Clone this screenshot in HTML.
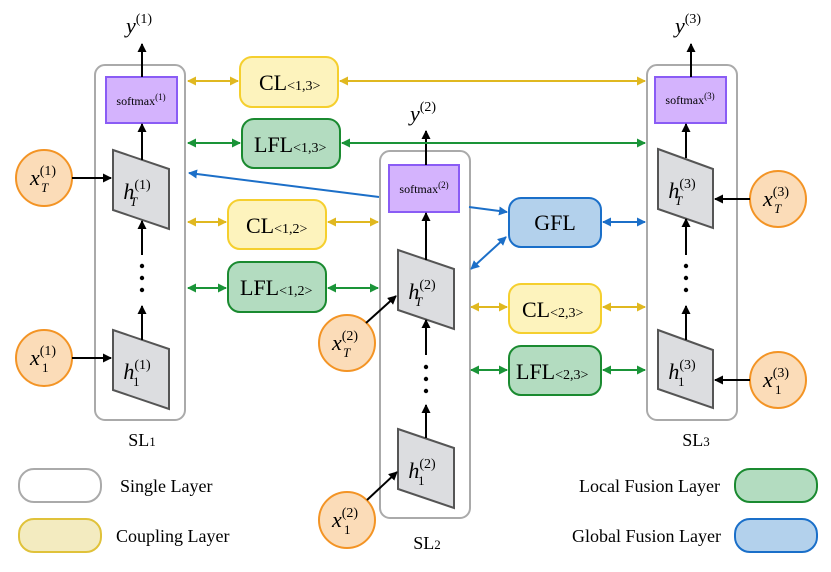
<!DOCTYPE html>
<html><head><meta charset="utf-8"><style>
html,body{margin:0;padding:0;background:#fff;}
svg{display:block;font-family:"Liberation Serif",serif;}
</style></head><body>
<svg width="831" height="572" viewBox="0 0 831 572" xmlns="http://www.w3.org/2000/svg">
<defs>
<marker id="ak" markerWidth="9" markerHeight="9" refX="8" refY="4.5" orient="auto-start-reverse" markerUnits="userSpaceOnUse"><path d="M0,0 L9,4.5 L0,9 z" fill="#000"/></marker>
<marker id="ay" markerWidth="9" markerHeight="9" refX="8" refY="4.5" orient="auto-start-reverse" markerUnits="userSpaceOnUse"><path d="M0,0 L9,4.5 L0,9 z" fill="#e0b820"/></marker>
<marker id="ag" markerWidth="9" markerHeight="9" refX="8" refY="4.5" orient="auto-start-reverse" markerUnits="userSpaceOnUse"><path d="M0,0 L9,4.5 L0,9 z" fill="#1a9438"/></marker>
<marker id="ab" markerWidth="9" markerHeight="9" refX="8" refY="4.5" orient="auto-start-reverse" markerUnits="userSpaceOnUse"><path d="M0,0 L9,4.5 L0,9 z" fill="#1c6fc8"/></marker>
</defs>

<rect x="95" y="65" width="90" height="355" rx="10" fill="#fff" stroke="#aaa" stroke-width="2"/>
<rect x="380" y="151" width="90" height="367" rx="10" fill="#fff" stroke="#aaa" stroke-width="2"/>
<rect x="647" y="65" width="90" height="355" rx="10" fill="#fff" stroke="#aaa" stroke-width="2"/>

<rect x="106" y="77" width="71" height="46" fill="#d4b3fd" stroke="#8a5cf5" stroke-width="2"/>
<text x="141" y="105" font-size="12" text-anchor="middle">softmax<tspan font-size="9" dy="-5">(1)</tspan></text>
<rect x="389" y="165" width="70" height="47" fill="#d4b3fd" stroke="#8a5cf5" stroke-width="2"/>
<text x="424" y="193" font-size="12" text-anchor="middle">softmax<tspan font-size="9" dy="-5">(2)</tspan></text>
<rect x="655" y="77" width="71" height="46" fill="#d4b3fd" stroke="#8a5cf5" stroke-width="2"/>
<text x="690" y="104" font-size="12" text-anchor="middle">softmax<tspan font-size="9" dy="-5">(3)</tspan></text>

<g stroke="#000" stroke-width="2" fill="none">
<line x1="142" y1="77" x2="142" y2="44" marker-end="url(#ak)"/>
<line x1="426" y1="165" x2="426" y2="131" marker-end="url(#ak)"/>
<line x1="691" y1="77" x2="691" y2="44" marker-end="url(#ak)"/>
</g>
<text x="126" y="33" font-size="22" font-style="italic">y<tspan font-size="14" font-style="normal" dy="-10">(1)</tspan></text>
<text x="410" y="121" font-size="22" font-style="italic">y<tspan font-size="14" font-style="normal" dy="-10">(2)</tspan></text>
<text x="675" y="33" font-size="22" font-style="italic">y<tspan font-size="14" font-style="normal" dy="-10">(3)</tspan></text>

<g fill="#dcdde0" stroke="#555" stroke-width="2">
<polygon points="113,150 169,169 169,229 113,210"/>
<polygon points="113,330 169,349 169,409 113,390"/>
<polygon points="398,250 454,269 454,329 398,310"/>
<polygon points="398,429 454,448 454,508 398,489"/>
<polygon points="658,149 713,169 713,228 658,209"/>
<polygon points="658,330 713,350 713,408 658,389"/>
</g>
<g font-size="22" font-style="italic" text-anchor="middle">
<text x="137" y="199">h<tspan font-size="14" font-style="normal" dy="-10">(1)</tspan></text>
<text x="137" y="379">h<tspan font-size="14" font-style="normal" dy="-10">(1)</tspan></text>
<text x="422" y="299">h<tspan font-size="14" font-style="normal" dy="-10">(2)</tspan></text>
<text x="422" y="478">h<tspan font-size="14" font-style="normal" dy="-10">(2)</tspan></text>
<text x="682" y="198">h<tspan font-size="14" font-style="normal" dy="-10">(3)</tspan></text>
<text x="682" y="379">h<tspan font-size="14" font-style="normal" dy="-10">(3)</tspan></text>
</g>
<g font-size="13" font-style="italic">
<text x="130" y="206">T</text><text x="133" y="386" font-style="normal">1</text>
<text x="415" y="306">T</text><text x="418" y="485" font-style="normal">1</text>
<text x="675" y="205">T</text><text x="678" y="386" font-style="normal">1</text>
</g>

<g stroke="#000" stroke-width="2" fill="none">
<line x1="142" y1="160" x2="142" y2="124" marker-end="url(#ak)"/>
<line x1="142" y1="255" x2="142" y2="221" marker-end="url(#ak)"/>
<line x1="142" y1="340" x2="142" y2="306" marker-end="url(#ak)"/>
<line x1="426" y1="260" x2="426" y2="213" marker-end="url(#ak)"/>
<line x1="426" y1="355" x2="426" y2="320" marker-end="url(#ak)"/>
<line x1="426" y1="438" x2="426" y2="405" marker-end="url(#ak)"/>
<line x1="686" y1="158" x2="686" y2="124" marker-end="url(#ak)"/>
<line x1="686" y1="255" x2="686" y2="219" marker-end="url(#ak)"/>
<line x1="686" y1="340" x2="686" y2="306" marker-end="url(#ak)"/>
</g>
<g fill="#000">
<circle cx="142" cy="266" r="2.2"/><circle cx="142" cy="278" r="2.2"/><circle cx="142" cy="290" r="2.2"/>
<circle cx="426" cy="367" r="2.2"/><circle cx="426" cy="379" r="2.2"/><circle cx="426" cy="391" r="2.2"/>
<circle cx="686" cy="266" r="2.2"/><circle cx="686" cy="278" r="2.2"/><circle cx="686" cy="290" r="2.2"/>
</g>

<g fill="#fbdcb8" stroke="#f39425" stroke-width="2">
<ellipse cx="44" cy="178" rx="28" ry="28"/>
<ellipse cx="44" cy="358" rx="28" ry="28"/>
<ellipse cx="347" cy="343" rx="28" ry="28"/>
<ellipse cx="347" cy="520" rx="28" ry="28"/>
<ellipse cx="778" cy="199" rx="28" ry="28"/>
<ellipse cx="778" cy="380" rx="28" ry="28"/>
</g>
<g font-size="22" font-style="italic">
<text x="30" y="185">x<tspan font-size="14" font-style="normal" dy="-10">(1)</tspan></text>
<text x="30" y="365">x<tspan font-size="14" font-style="normal" dy="-10">(1)</tspan></text>
<text x="332" y="350">x<tspan font-size="14" font-style="normal" dy="-10">(2)</tspan></text>
<text x="332" y="527">x<tspan font-size="14" font-style="normal" dy="-10">(2)</tspan></text>
<text x="763" y="206">x<tspan font-size="14" font-style="normal" dy="-10">(3)</tspan></text>
<text x="763" y="387">x<tspan font-size="14" font-style="normal" dy="-10">(3)</tspan></text>
</g>
<g font-size="13">
<text x="41" y="192" font-style="italic">T</text><text x="42" y="372">1</text>
<text x="343" y="357" font-style="italic">T</text><text x="344" y="534">1</text>
<text x="774" y="213" font-style="italic">T</text><text x="775" y="394">1</text>
</g>
<g stroke="#000" stroke-width="2" fill="none">
<line x1="72" y1="178" x2="111" y2="178" marker-end="url(#ak)"/>
<line x1="72" y1="358" x2="111" y2="358" marker-end="url(#ak)"/>
<line x1="366" y1="323" x2="396" y2="296" marker-end="url(#ak)"/>
<line x1="367" y1="500" x2="397" y2="472" marker-end="url(#ak)"/>
<line x1="750" y1="199" x2="715" y2="199" marker-end="url(#ak)"/>
<line x1="750" y1="380" x2="715" y2="380" marker-end="url(#ak)"/>
</g>

<g stroke-width="2">
<rect x="240" y="57" width="98" height="50" rx="12" fill="#fdf3bd" stroke="#f5cf2e"/>
<rect x="242" y="119" width="98" height="49" rx="12" fill="#b3dcc0" stroke="#1a8a30"/>
<rect x="228" y="200" width="98" height="49" rx="12" fill="#fdf3bd" stroke="#f5cf2e"/>
<rect x="228" y="262" width="98" height="50" rx="12" fill="#b3dcc0" stroke="#1a8a30"/>
<rect x="509" y="198" width="92" height="49" rx="12" fill="#b3d1ec" stroke="#1a6fc9"/>
<rect x="509" y="284" width="92" height="49" rx="12" fill="#fdf3bd" stroke="#f5cf2e"/>
<rect x="509" y="346" width="92" height="49" rx="12" fill="#b3dcc0" stroke="#1a8a30"/>
</g>
<g font-size="22">
<text x="259" y="90">CL<tspan font-size="14">&lt;1,3&gt;</tspan></text>
<text x="254" y="152">LFL<tspan font-size="14">&lt;1,3&gt;</tspan></text>
<text x="246" y="233">CL<tspan font-size="14">&lt;1,2&gt;</tspan></text>
<text x="240" y="295">LFL<tspan font-size="14">&lt;1,2&gt;</tspan></text>
<text x="555" y="230" text-anchor="middle">GFL</text>
<text x="522" y="317">CL<tspan font-size="14">&lt;2,3&gt;</tspan></text>
<text x="516" y="379">LFL<tspan font-size="14">&lt;2,3&gt;</tspan></text>
</g>

<g stroke-width="2" fill="none">
<line x1="188" y1="81" x2="238" y2="81" stroke="#e0b820" marker-start="url(#ay)" marker-end="url(#ay)"/>
<line x1="340" y1="81" x2="645" y2="81" stroke="#e0b820" marker-start="url(#ay)" marker-end="url(#ay)"/>
<line x1="188" y1="143" x2="240" y2="143" stroke="#1a9438" marker-start="url(#ag)" marker-end="url(#ag)"/>
<line x1="342" y1="143" x2="645" y2="143" stroke="#1a9438" marker-start="url(#ag)" marker-end="url(#ag)"/>
<line x1="379" y1="197" x2="189" y2="173" stroke="#1c6fc8" marker-end="url(#ab)"/>
<line x1="188" y1="222" x2="226" y2="222" stroke="#e0b820" marker-start="url(#ay)" marker-end="url(#ay)"/>
<line x1="328" y1="222" x2="378" y2="222" stroke="#e0b820" marker-start="url(#ay)" marker-end="url(#ay)"/>
<line x1="188" y1="288" x2="226" y2="288" stroke="#1a9438" marker-start="url(#ag)" marker-end="url(#ag)"/>
<line x1="328" y1="288" x2="378" y2="288" stroke="#1a9438" marker-start="url(#ag)" marker-end="url(#ag)"/>
<line x1="469" y1="207" x2="507" y2="212" stroke="#1c6fc8" marker-end="url(#ab)"/>
<line x1="471" y1="269" x2="506" y2="237" stroke="#1c6fc8" marker-start="url(#ab)" marker-end="url(#ab)"/>
<line x1="603" y1="222" x2="645" y2="222" stroke="#1c6fc8" marker-start="url(#ab)" marker-end="url(#ab)"/>
<line x1="471" y1="307" x2="507" y2="307" stroke="#e0b820" marker-start="url(#ay)" marker-end="url(#ay)"/>
<line x1="603" y1="307" x2="645" y2="307" stroke="#e0b820" marker-start="url(#ay)" marker-end="url(#ay)"/>
<line x1="471" y1="370" x2="507" y2="370" stroke="#1a9438" marker-start="url(#ag)" marker-end="url(#ag)"/>
<line x1="603" y1="370" x2="645" y2="370" stroke="#1a9438" marker-start="url(#ag)" marker-end="url(#ag)"/>
</g>

<g font-size="18" text-anchor="middle">
<text x="142" y="446">SL<tspan font-size="13">1</tspan></text>
<text x="427" y="549">SL<tspan font-size="13">2</tspan></text>
<text x="696" y="446">SL<tspan font-size="13">3</tspan></text>
</g>

<g stroke-width="2">
<rect x="19" y="469" width="82" height="33" rx="15" fill="#fff" stroke="#aaa"/>
<rect x="19" y="519" width="82" height="33" rx="15" fill="#f3ebc0" stroke="#e0c23a"/>
<rect x="735" y="469" width="82" height="33" rx="15" fill="#b3dcc0" stroke="#1a8a30"/>
<rect x="735" y="519" width="82" height="33" rx="15" fill="#b3d1ec" stroke="#1a6fc9"/>
</g>
<g font-size="18">
<text x="120" y="492">Single Layer</text>
<text x="116" y="542">Coupling Layer</text>
<text x="720" y="492" text-anchor="end">Local Fusion Layer</text>
<text x="721" y="542" text-anchor="end">Global Fusion Layer</text>
</g>
</svg>
</body></html>
